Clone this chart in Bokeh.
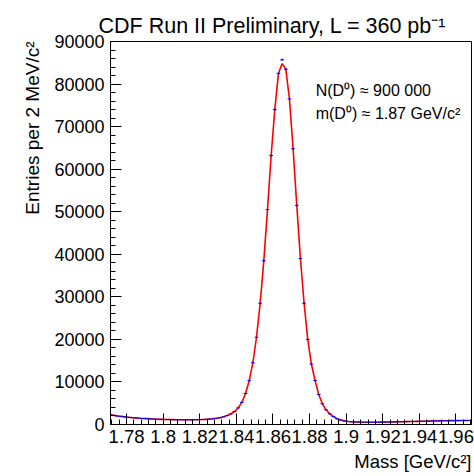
import numpy as np
from bokeh.plotting import figure
from bokeh.models import Range1d, SingleIntervalTicker, CustomJSTickFormatter, Label, Title
from bokeh.embed import file_html
from bokeh.resources import INLINE

# Histogram: 2 MeV bins starting at 1.770 GeV
bin_start = 1.770
bin_width = 0.002
counts = [
    2300, 2150, 2000, 1900, 1800, 1700, 1620, 1550, 1480, 1420,
    1370, 1320, 1280, 1240, 1210, 1180, 1160, 1140, 1120, 1110,
    1100, 1100, 1100, 1110, 1130, 1160, 1200, 1260, 1340, 1450,
    1600, 1800, 2100, 2500, 3050, 3900, 5200, 7300, 10300, 14500,
    20500, 28500, 38500, 50500, 63200, 74000, 82500, 85700, 83500, 76500,
    64800, 51500, 39000, 28500, 20000, 14200, 10340, 7050, 4860, 3450,
    2510, 1880, 1340, 1050, 850, 720, 640, 590, 560, 540,
    530, 530, 530, 540, 550, 560, 580, 600, 620, 640,
    660, 680, 700, 720, 740, 760, 780, 800, 820, 840,
    860, 870, 890, 900, 910, 920, 930, 940, 950,
]
fit_peak = 84800

title_text = "CDF Run II Preliminary, L = 360 pb\u207b\u00b9"
x_label = "Mass [GeV/c\u00b2]"
y_label = "Entries per 2 MeV/c\u00b2"
note_lines = ["N(D\u2070) \u2248  900 000", "m(D\u2070) \u2248 1.87 GeV/c\u00b2"]

counts_arr = np.array(counts, dtype=float)
centers = bin_start + bin_width * (np.arange(len(counts)) + 0.5)
errs = np.sqrt(counts_arr)
fit = counts_arr.copy()
fit[int(np.argmax(fit))] = fit_peak

X0, X1 = 1.7712, 1.9685
Y0, Y1 = 0, 90000
FONT = "Liberation Sans"

p = figure(width=474, height=476, x_range=Range1d(X0, X1), y_range=Range1d(Y0, Y1),
           output_backend="svg", toolbar_location=None,
           min_border_left=110, min_border_right=3, min_border_top=41, min_border_bottom=52)
p.background_fill_color = "white"
p.border_fill_color = "white"
p.outline_line_color = "black"
p.outline_line_width = 1
p.outline_line_alpha = 1
p.grid.visible = False

p.line(centers, fit, line_color="red", line_width=1.6)
p.segment(x0=centers - bin_width / 2, y0=counts_arr, x1=centers + bin_width / 2, y1=counts_arr,
          line_color="blue", line_width=1)
p.segment(x0=centers, y0=counts_arr - errs, x1=centers, y1=counts_arr + errs,
          line_color="blue", line_width=1)

for ax in (p.xaxis[0], p.yaxis[0]):
    ax.major_tick_in = 11
    ax.major_tick_out = 0
    ax.minor_tick_in = 5
    ax.minor_tick_out = 0
    ax.axis_line_color = "black"
    ax.major_tick_line_color = "black"
    ax.minor_tick_line_color = "black"
    ax.major_label_text_font = FONT
    ax.major_label_text_color = "black"

p.xaxis.ticker = SingleIntervalTicker(interval=0.02, num_minor_ticks=5)
p.xaxis.formatter = CustomJSTickFormatter(code="return String(Math.round(tick*1000)/1000);")
p.xaxis.major_label_text_font_size = "18.5px"
p.xaxis.major_label_standoff = 5
p.yaxis.ticker = SingleIntervalTicker(interval=10000, num_minor_ticks=5)
p.yaxis.major_label_text_font_size = "18px"
p.yaxis.major_label_standoff = 6

p.add_layout(Title(text=title_text, align="left", offset=-12, standoff=8,
                   text_font=FONT, text_font_size="21.5px", text_font_style="normal",
                   text_color="black"), "above")
p.add_layout(Title(text=x_label, align="right", offset=0, standoff=7,
                   text_font=FONT, text_font_size="18.5px", text_font_style="normal",
                   text_color="black"), "below")
p.add_layout(Title(text=y_label, align="right", offset=0, standoff=17,
                   text_font=FONT, text_font_size="19px", text_font_style="normal",
                   text_color="black"), "left")

px_per_x = 360.7 / (X1 - X0)
px_per_y = 383.0 / (Y1 - Y0)

def dx(page_x):
    return X0 + (page_x - 110) / px_per_x

def dy(page_y):
    return (424 - page_y) / px_per_y

for i, line in enumerate(note_lines):
    p.add_layout(Label(x=dx(315), y=dy(90 + 23 * i), text=line, text_font=FONT,
                       text_font_size="16px", text_align="left", text_baseline="alphabetic",
                       text_color="black"))

open("out.html", "w").write(file_html(p, INLINE))
